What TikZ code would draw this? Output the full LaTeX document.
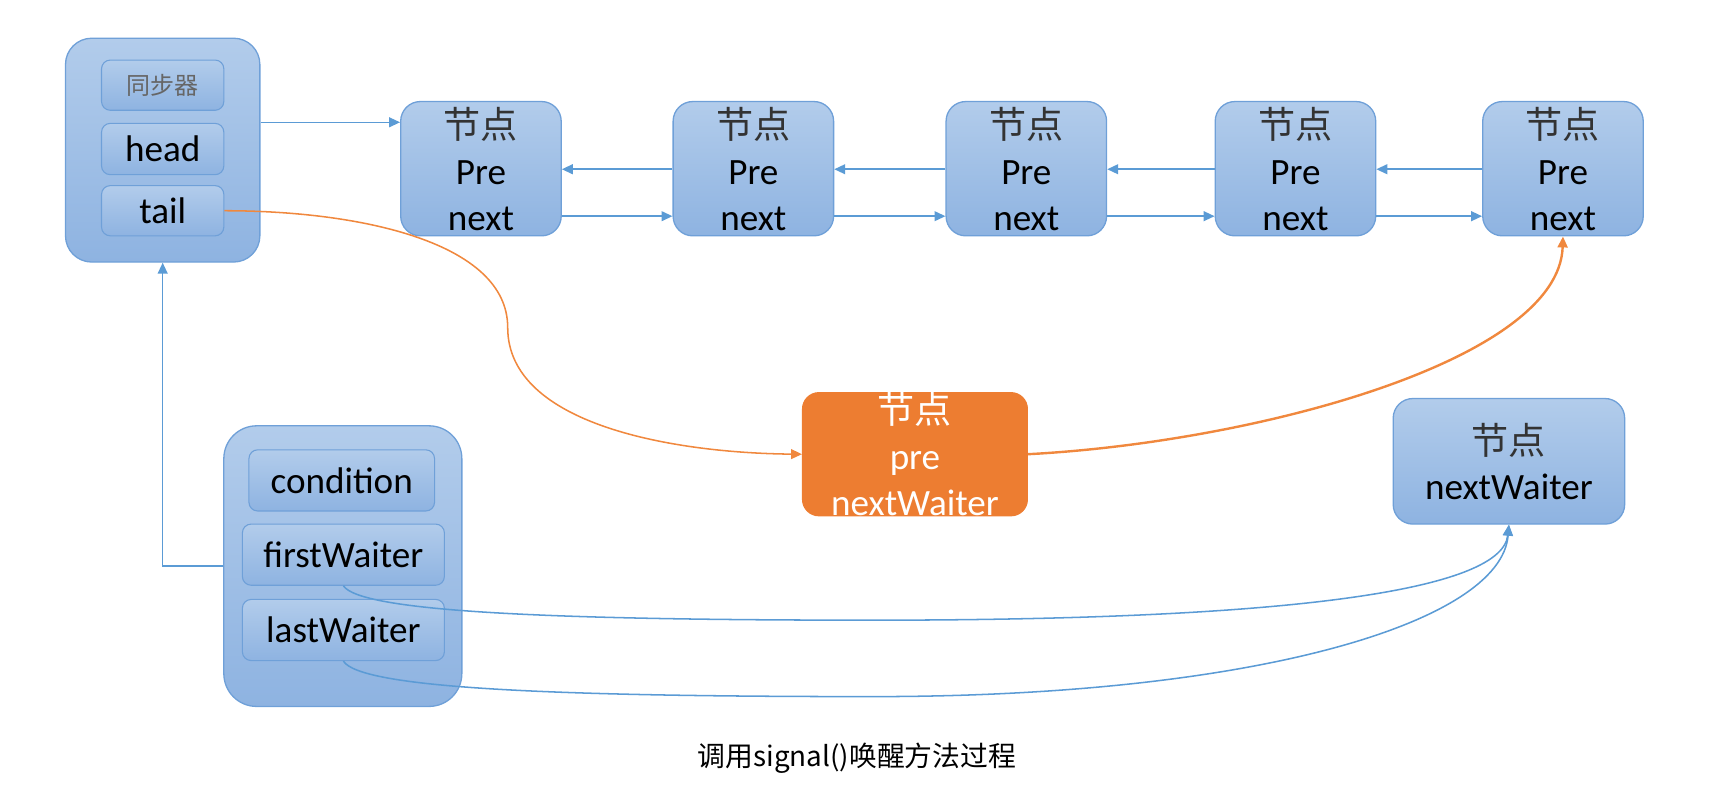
\documentclass[tikz,border=0pt]{standalone}
\usepackage{fontspec}
\setmainfont{Carlito}
\newfontfamily\cjk{Noto Sans CJK SC}
\usetikzlibrary{arrows.meta,calc}
\definecolor{btop}{HTML}{B2CCEB}
\definecolor{bbot}{HTML}{8EB3E1}
\definecolor{bdr}{HTML}{6FA0D8}
\definecolor{bline}{HTML}{5B9BD5}
\definecolor{orfill}{HTML}{ED7D31}
\definecolor{orline}{HTML}{F0883E}
\definecolor{cjkgray}{HTML}{333333}
\begin{document}
\begin{tikzpicture}[x=1pt,y=-1pt,
  box/.style={draw=bdr, line width=1.2pt, top color=btop, bottom color=bbot, rounded corners=24pt, inner sep=0pt},
  inbox/.style={draw=bdr, line width=1pt, top color=btop, bottom color=bbot, rounded corners=8pt, inner sep=0pt, font=\fontsize{34}{34}\selectfont, text=black},
  nd/.style={box, rounded corners=18pt, minimum width=147pt, minimum height=123pt, align=center, font=\fontsize{34}{42}\selectfont, text=black},
  arr/.style={draw=bline, line width=1.4pt, -{Triangle[length=10pt,width=9pt]}},
  oarr/.style={draw=orline, line width=1.4pt, -{Triangle[length=10pt,width=9pt]}},
]
\useasboundingbox (0,0) rectangle (1568,742);

% synchronizer container
\node[box, minimum width=178pt, minimum height=205pt] (A) at (149,137.5) {};
\node[inbox, minimum width=112pt, minimum height=46pt] (sync) at (149,78) {\cjk\fontsize{22}{22}\selectfont\color{black!60}同步器};
\node[inbox, minimum width=112pt, minimum height=47pt] (head) at (149,136.5) {head};
\node[inbox, minimum width=112pt, minimum height=46pt] (tail) at (149,193) {tail};

% node row
\newcommand{\zhnode}{{\cjk\fontsize{34}{42}\selectfont\color{cjkgray}节点}}
\node[nd] (n1) at (440.5,154.5) {\zhnode\\Pre\\next};
\node[nd] (n2) at (690,154.5) {\zhnode\\Pre\\next};
\node[nd] (n3) at (940,154.5) {\zhnode\\Pre\\next};
\node[nd] (n4) at (1186.5,154.5) {\zhnode\\Pre\\next};
\node[nd] (n5) at (1431.5,154.5) {\zhnode\\Pre\\next};

\draw[arr] ($(A.east)+(0,-25.5)$) -- ($(n1.west)+(0,-42.5)$);
\foreach \a/\b in {n1/n2,n2/n3,n3/n4,n4/n5}{
  \draw[arr] ($(\b.west)+(0,0.5)$) -- ($(\a.east)+(0,0.5)$);
  \draw[arr] ($(\a.east)+(0,43.5)$) -- ($(\b.west)+(0,43.5)$);
}

% condition container
\node[box, rounded corners=30pt, minimum width=218pt, minimum height=257pt] (B) at (314,518.5) {};
\node[inbox, minimum width=170pt, minimum height=56pt] (cond) at (313,440) {condition};
\node[inbox, minimum width=185pt, minimum height=56pt] (fw) at (314.5,508) {firstWaiter};
\node[inbox, minimum width=185pt, minimum height=56pt] (lw) at (314.5,577) {lastWaiter};

\draw[arr] (B.west) -| (A.south);

% orange node
\node[draw=orfill, line width=1pt, fill=orfill, rounded corners=15pt, minimum width=206pt, minimum height=112pt, inner sep=0pt, align=center, text=white, font=\fontsize{34}{42}\selectfont] (O) at (838,416) {{\cjk\fontsize{34}{42}\selectfont 节点}\\pre\\nextWaiter};

% waiting node
\node[box, rounded corners=18pt, minimum width=212pt, minimum height=115pt, align=center, font=\fontsize{34}{41}\selectfont, text=black] (W) at (1382,422.5) {\zhnode\\nextWaiter};

% orange connectors
\draw[oarr] (tail.east) .. controls (330,193) and (465,222) .. (465,300) .. controls (465,390) and (620,415) .. (O.west);
\draw[oarr, line width=2.2pt] (O.east) .. controls (1150,405) and (1428,330) .. (n5.south);

% blue connectors to waiter
\draw[arr] (fw.south) .. controls (330,560) and (500,568) .. (800,568) .. controls (1150,568) and (1375,545) .. (W.south);
\draw[arr] (lw.south) .. controls (330,630) and (500,638) .. (800,638) .. controls (1150,638) and (1375,570) .. (W.south);

% caption
\node[font=\cjk\fontsize{25.5}{26}\selectfont] (cap) at (785,694) {调用signal()唤醒方法过程};
\end{tikzpicture}
\end{document}
